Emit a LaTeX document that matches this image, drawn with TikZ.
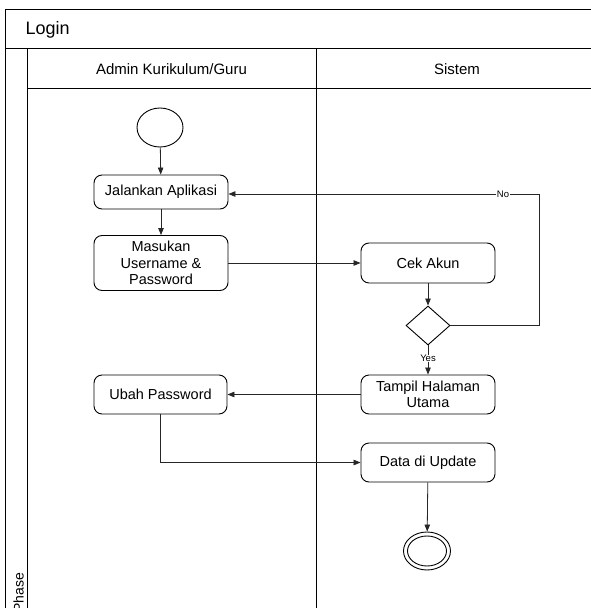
\documentclass[tikz,border=0pt]{standalone}
\usepackage{fontspec}
\setmainfont{Liberation Sans}
\usetikzlibrary{arrows.meta,shapes.geometric}

\tikzset{
  frameline/.style={draw=black, line width=0.9pt},
  actbox/.style={draw=black, line width=0.9pt, rounded corners=8pt, align=center,
    minimum width=134pt, inner sep=2pt, font=\fontsize{14.5}{16.5}\selectfont},
  flow/.style={draw=black!85, line width=0.8pt, -{Triangle[length=7pt,width=5.5pt]}},
  guard/.style={fill=white, inner sep=0.6pt, font=\fontsize{9.5}{11}\selectfont},
  lanehead/.style={anchor=base, font=\fontsize{15}{17}\selectfont},
}

\begin{document}
\begin{tikzpicture}[x=1pt, y=-1pt]
\useasboundingbox (0,0) rectangle (591,608);
\clip (0,0) rectangle (591,608);

% swimlane frame
\draw[frameline] (5,9) rectangle (598,640);
\draw[frameline] (5,48) -- (598,48);
\draw[frameline] (27,88) -- (598,88);
\draw[frameline] (27,48) -- (27,640);
\draw[frameline] (316,48) -- (316,640);

\node[anchor=base west, font=\fontsize{18}{20}\selectfont] (title) at (22,34.5) {Login};
\node[lanehead] (laneA) at (171.5,74) {Admin Kurikulum/Guru};
\node[lanehead] (laneB) at (457,74) {Sistem};
\node[anchor=base west, rotate=90, inner sep=0pt, font=\fontsize{14}{16}\selectfont] (phase) at (23.5,613) {Phase};

% activity nodes
\node[draw=black, line width=0.9pt, ellipse, minimum width=46pt, minimum height=39pt, inner sep=0pt] (start) at (160,127.5) {};
\node[actbox, minimum height=34pt] (jal) at (161,192) {Jalankan Aplikasi};
\node[actbox, minimum height=55pt] (mas) at (161,263) {Masukan\\Username \&\\Password};
\node[actbox, minimum height=40pt] (cek) at (428,263) {Cek Akun};
\node[draw=black, line width=0.9pt, diamond, minimum width=44pt, minimum height=39pt, inner sep=0pt] (dec) at (428,325.5) {};
\node[actbox, minimum height=39pt] (tampil) at (428,394.5) {Tampil Halaman\\Utama};
\node[actbox, minimum height=39pt, minimum width=133pt] (ubah) at (160.5,394.5) {Ubah Password};
\node[actbox, minimum height=39pt] (data) at (428,462.5) {Data di Update};
\node[draw=black, line width=0.9pt, ellipse, minimum width=47pt, minimum height=38pt, inner sep=0pt] (end) at (427,551) {};
\node[draw=black, line width=0.9pt, ellipse, minimum width=39pt, minimum height=30pt, inner sep=0pt] (endin) at (end.center) {};

\coordinate (nocorner) at (539,194);

% control flow
\draw[flow] (start) -- (jal);
\draw[flow] (jal) -- (mas);
\draw[flow] (mas.east) -- (cek.west);
\draw[flow] (cek) -- (dec);
\draw[flow] (dec.east) -| (nocorner) -- node[guard, pos=0.116] {No} (nocorner -| jal.east);
\draw[flow] (dec.south) -- node[guard, pos=0.45] {Yes} (tampil.north);
\draw[flow] (tampil.west) -- (ubah.east);
\draw[flow] (ubah.south) |- (data.west);
\draw[flow] (data) -- (end);
\end{tikzpicture}
\end{document}
